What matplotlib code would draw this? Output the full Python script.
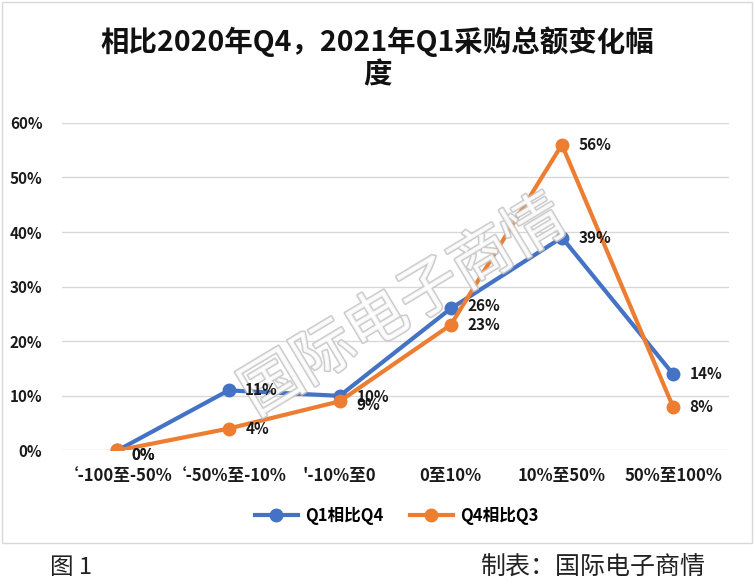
import matplotlib
matplotlib.use("Agg")
import matplotlib.pyplot as plt
import matplotlib.patheffects as pe
from matplotlib.patches import Rectangle

plt.rcParams['font.family'] = ['Noto Sans CJK SC', 'DejaVu Sans']

categories = ["‘-100至-50%", "‘-50%至-10%", "'-10%至0", "0至10%", "10%至50%", "50%至100%"]
q1_vs_q4 = [0, 11, 10, 26, 39, 14]
q4_vs_q3 = [0, 4, 9, 23, 56, 8]
yticks = [0, 10, 20, 30, 40, 50, 60]

blue = "#4472C4"
orange = "#ED7D31"

W, H = 755, 585
fig = plt.figure(figsize=(W / 100, H / 100), dpi=100)
ax = fig.add_axes([0.082, 0.23, 0.883, 0.56])

x = list(range(len(categories)))
ax.plot(x, q1_vs_q4, color=blue, lw=3, marker="o", ms=9, label="Q1相比Q4", zorder=3)
ax.plot(x, q4_vs_q3, color=orange, lw=3, marker="o", ms=9, label="Q4相比Q3", zorder=4)

# data labels (reference has 0%/0% and 10%/9% piled on each other)
offs_q1 = [(10, -3), (12, 0), (12, -1), (12, 2), (12, 0), (12, 0)]
offs_q3 = [(10, -3), (12, 0), (12, -3), (12, 0), (12, 0), (12, 0)]
for xi, v, o in zip(x, q1_vs_q4, offs_q1):
    ax.annotate(f"{v}%", (xi, v), xytext=o, textcoords="offset points",
                ha="left", va="center", fontsize=11, fontweight="bold", color="#1a1a1a", zorder=6)
for xi, v, o in zip(x, q4_vs_q3, offs_q3):
    ax.annotate(f"{v}%", (xi, v), xytext=o, textcoords="offset points",
                ha="left", va="center", fontsize=11, fontweight="bold", color="#1a1a1a", zorder=6)

ax.set_xlim(-0.5, len(categories) - 0.5)
ax.set_ylim(0, 60)
ax.set_yticks(yticks)
ax.set_yticklabels([f"{t}%" for t in yticks], fontsize=11, fontweight="bold", color="#1a1a1a")
ax.set_xticks(x)
ax.set_xticklabels(categories, fontsize=12, fontweight="bold", color="#1a1a1a")
ax.tick_params(axis="x", length=0, pad=12)
ax.tick_params(axis="y", length=0, pad=14)
ax.grid(axis="y", color="#d9d9d9", lw=1)
ax.set_axisbelow(True)
for s in ax.spines.values():
    s.set_visible(False)

# watermark: above the lines, under the data labels
ax.text(0.535, 0.475, "国际电子商情", transform=fig.transFigure, rotation=31,
        ha="center", va="center", fontsize=44, color="white", alpha=0.85, zorder=5,
        path_effects=[pe.withStroke(linewidth=2.2, foreground="#c4c4c4")])

fig.text(0.5, 1 - 42 / H, "相比2020年Q4，2021年Q1采购总额变化幅", ha="center", va="center",
         fontsize=20.5, fontweight="bold", color="#111111")
fig.text(0.5, 1 - 75 / H, "度", ha="center", va="center",
         fontsize=20.5, fontweight="bold", color="#111111")

leg = fig.legend(loc="center", bbox_to_anchor=(0.525, 0.118), ncol=2, frameon=False,
                 prop={"size": 12, "weight": "bold"}, handlelength=2.6, handletextpad=0.4,
                 columnspacing=1.6)

# chart border
fig.patches.append(Rectangle((0.003, 0.072), 0.993, 0.925, transform=fig.transFigure,
                             fill=False, edgecolor="#d9d9d9", lw=1))

fig.text(50 / W, 1 - 568 / H, "图 1", fontsize=17, color="#222222", va="center", fontweight="light")
fig.text(706 / W, 1 - 568 / H, "制表：国际电子商情", fontsize=18, color="#222222", va="center",
         ha="right", fontweight="light")

fig.savefig("out.png", dpi=100)
